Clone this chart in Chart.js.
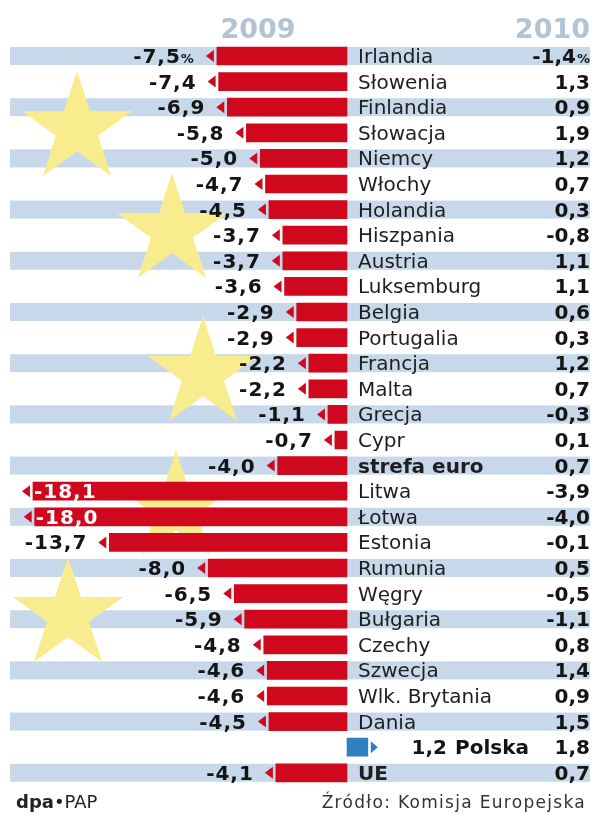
<!DOCTYPE html>
<html>
<head>
<meta charset="utf-8">
<script src="https://cdn.jsdelivr.net/npm/chart.js@4"></script>
<style>
html,body{margin:0;padding:0;background:#fff;}
#c{display:block;}
</style>
</head>
<body>
<canvas id="c" width="600" height="814"></canvas>
<script>
const categories = ['Irlandia','Słowenia','Finlandia','Słowacja','Niemcy','Włochy','Holandia','Hiszpania','Austria','Luksemburg','Belgia','Portugalia','Francja','Malta','Grecja','Cypr','strefa euro','Litwa','Łotwa','Estonia','Rumunia','Węgry','Bułgaria','Czechy','Szwecja','Wlk. Brytania','Dania','Polska','UE'];
const growth2009 = [-7.5,-7.4,-6.9,-5.8,-5.0,-4.7,-4.5,-3.7,-3.7,-3.6,-2.9,-2.9,-2.2,-2.2,-1.1,-0.7,-4.0,-18.1,-18.0,-13.7,-8.0,-6.5,-5.9,-4.8,-4.6,-4.6,-4.5,1.2,-4.1];
const growth2010 = [-1.4,1.3,0.9,1.9,1.2,0.7,0.3,-0.8,1.1,1.1,0.6,0.3,1.2,0.7,-0.3,0.1,0.7,-3.9,-4.0,-0.1,0.5,-0.5,-1.1,0.8,1.4,0.9,1.5,1.8,0.7];
const boldRows = ['strefa euro','UE'];
const highlightRow = 'Polska';
const yearLabels = ['2009','2010'];
const sourceText = 'Źródło: Komisja Europejska';

const RED = '#d0081d', BLUE = '#2f7fc1', STRIPE = '#c7d8ea', STAR = '#f9ec8e', HEAD = '#b3c3d6', INK = '#141414';
const fmt = v => v.toFixed(1).replace('.', ',');

function star(ctx, cx, cy, R) {
  const r = R * 0.382;
  ctx.beginPath();
  for (let k = 0; k < 10; k++) {
    const rad = k % 2 ? r : R;
    const a = -Math.PI / 2 + k * Math.PI / 5;
    const x = cx + rad * Math.cos(a), y = cy + rad * Math.sin(a);
    k ? ctx.lineTo(x, y) : ctx.moveTo(x, y);
  }
  ctx.closePath();
  ctx.fill();
}

const decor = {
  id: 'decor',
  beforeDatasetsDraw(chart) {
    const ctx = chart.ctx, ys = chart.scales.y;
    ctx.save();
    ctx.fillStyle = STRIPE;
    categories.forEach((c, i) => {
      if (i % 2 === 0) {
        const y = ys.getPixelForValue(i);
        ctx.fillRect(10, y - 9, 580, 18);
      }
    });
    ctx.fillStyle = STAR;
    [[77,129],[172,231],[203,374],[176,508],[68,615]].forEach(p => star(ctx, p[0], p[1], 58));
    ctx.restore();
  },
  afterDatasetsDraw(chart) {
    const ctx = chart.ctx, xs = chart.scales.x, ys = chart.scales.y;
    const x0 = xs.getPixelForValue(0);
    ctx.save();
    ctx.textBaseline = 'alphabetic';
    categories.forEach((name, i) => {
      const y = ys.getPixelForValue(i);
      const base = y + 7;
      const v = growth2009[i];
      const bx = xs.getPixelForValue(v);
      // arrow
      if (v < 0) {
        ctx.fillStyle = RED;
        ctx.beginPath();
        ctx.moveTo(bx - 3, y - 6);
        ctx.lineTo(bx - 3, y + 6);
        ctx.lineTo(bx - 11, y);
        ctx.closePath();
        ctx.fill();
      } else {
        ctx.fillStyle = BLUE;
        ctx.beginPath();
        ctx.moveTo(bx + 3, y - 6);
        ctx.lineTo(bx + 3, y + 6);
        ctx.lineTo(bx + 10, y);
        ctx.closePath();
        ctx.fill();
      }
      // 2009 value
      ctx.font = 'bold 20px "DejaVu Sans"';
      const s = fmt(v);
      if (name === highlightRow) {
        ctx.fillStyle = INK;
        ctx.textAlign = 'right';
        ctx.fillText(s, 447, base);
        ctx.textAlign = 'left';
        ctx.fillText(name, 455, base);
      } else {
        let pct = i === 0 ? '%' : '';
        ctx.letterSpacing = '1px';
        ctx.font = 'bold 20px "DejaVu Sans"';
        const w = ctx.measureText(s).width;
        ctx.letterSpacing = '0px';
        ctx.font = 'bold 13px "DejaVu Sans"';
        const wp = pct ? ctx.measureText(pct).width + 1 : 0;
        let right = bx - 23;
        if (right - w - wp < 12) {
          ctx.fillStyle = '#fff';
          ctx.textAlign = 'left';
          ctx.letterSpacing = '1px';
          ctx.font = 'bold 20px "DejaVu Sans"';
          ctx.fillText(s, bx + 1, base);
          ctx.letterSpacing = '0px';
        } else {
          ctx.fillStyle = INK;
          ctx.textAlign = 'right';
          if (pct) { ctx.font = 'bold 13px "DejaVu Sans"'; ctx.fillText(pct, right, base); }
          ctx.letterSpacing = '1px';
          ctx.font = 'bold 20px "DejaVu Sans"';
          ctx.fillText(s, right - wp + 1, base);
          ctx.letterSpacing = '0px';
        }
        // country name
        ctx.fillStyle = '#1e1e1e';
        ctx.textAlign = 'left';
        ctx.font = (boldRows.includes(name) ? 'bold ' : '') + '20px "DejaVu Sans"';
        ctx.fillText(name, x0 + 11, base);
      }
      // 2010 value
      ctx.fillStyle = INK;
      ctx.textAlign = 'right';
      if (i === 0) {
        ctx.font = 'bold 13px "DejaVu Sans"';
        ctx.fillText('%', 590, base);
        const wp = ctx.measureText('%').width + 1;
        ctx.font = 'bold 20px "DejaVu Sans"';
        ctx.fillText(fmt(growth2010[i]), 590 - wp, base);
      } else {
        ctx.font = 'bold 20px "DejaVu Sans"';
        ctx.fillText(fmt(growth2010[i]), 590, base);
      }
    });
    // headers
    ctx.fillStyle = HEAD;
    ctx.font = 'bold 27px "DejaVu Sans"';
    ctx.textAlign = 'center';
    ctx.fillText(yearLabels[0], 258, 38);
    ctx.textAlign = 'right';
    ctx.fillText(yearLabels[1], 590, 38);
    // footer
    ctx.fillStyle = '#222';
    ctx.textAlign = 'left';
    ctx.font = 'bold 18px "DejaVu Sans"';
    ctx.fillText('dpa', 16, 808);
    const wd = ctx.measureText('dpa').width;
    ctx.font = '18px "DejaVu Sans"';
    ctx.fillText('•PAP', 16 + wd, 808);
    ctx.fillStyle = '#333';
    ctx.textAlign = 'right';
    ctx.font = '17px "DejaVu Sans"';
    ctx.letterSpacing = '1.3px';
    ctx.fillText(sourceText, 586, 808);
    ctx.letterSpacing = '0px';
    ctx.restore();
  }
};

new Chart(document.getElementById('c'), {
  type: 'bar',
  data: {
    labels: categories,
    datasets: [{
      data: growth2009,
      backgroundColor: growth2009.map(v => v < 0 ? RED : BLUE),
      borderWidth: 0,
      barThickness: 18
    }]
  },
  options: {
    indexAxis: 'y',
    responsive: false,
    animation: false,
    layout: { padding: { top: 43.2, bottom: 28.4, left: 0, right: 0 } },
    scales: {
      x: { display: false, min: -20.0, max: 14.58 },
      y: { display: false }
    },
    plugins: { legend: { display: false }, tooltip: { enabled: false } }
  },
  plugins: [decor]
});
</script>
</body>
</html>
